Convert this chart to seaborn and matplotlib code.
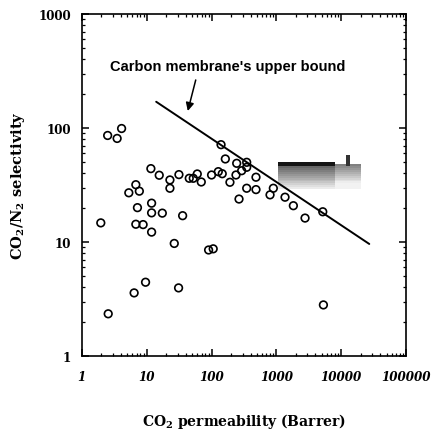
import matplotlib
matplotlib.use("Agg")
import matplotlib.pyplot as plt
import matplotlib.ticker as mticker
import numpy as np
import pandas as pd
import seaborn as sns

# CO2 permeability (Barrer) of the polymer membranes
permeability = [1.96, 2.5, 3.5, 4.1, 2.55, 5.3, 6.8, 7.7, 7.2, 6.8, 8.8, 6.4, 9.6,
                11.6, 15.6, 22.8, 22.8, 31.4, 11.9, 11.9, 17.4, 35.8, 11.9, 26.6, 31,
                45.3, 52.2, 60.2, 69.4, 100, 127, 146, 140, 163, 192, 244, 348, 291,
                348, 238, 484, 348, 484, 265, 797, 896, 1357, 1824, 2762, 5180, 90,
                106, 5300]
# CO2/N2 selectivity of the same membranes
selectivity = [14.7, 86, 81, 99, 2.34, 27, 31.8, 27.9, 20, 14.3, 14.2, 3.57, 4.43,
               44, 38.5, 35, 29.6, 39, 21.9, 18, 17.9, 17, 12.2, 9.7, 3.95,
               36.2, 36.2, 39.5, 33.6, 38.7, 41.4, 39.7, 71.4, 53.5, 33.4, 49, 50, 42.2,
               45.2, 38.7, 37, 29.6, 28.8, 23.8, 25.9, 29.6, 24.7, 20.8, 16.2, 18.4, 8.5,
               8.7, 2.8]

# Carbon membrane upper bound (end points)
bound_perm = [14, 27000]
bound_sel = [170, 9.6]

# Carbon molecular sieve membrane region
cms_perm = [1060, 8000, 20000]
cms_sel_top = 50
cms_sel_bottom = 29

x_ticks = [1, 10, 100, 1000, 10000, 100000]
y_ticks = [1, 10, 100, 1000]

sns.set_style("ticks")
plt.rcParams["font.family"] = ["DejaVu Serif"]
plt.rcParams["mathtext.default"] = "regular"
plt.rcParams["text.color"] = "black"
plt.rcParams["axes.labelcolor"] = "black"
plt.rcParams["xtick.color"] = "black"
plt.rcParams["ytick.color"] = "black"

fig = plt.figure(figsize=(4.33, 4.31), dpi=100)
ax = fig.add_axes([0.189, 0.172, 0.749, 0.793])

# shaded carbon membrane region: dark top edge fading downward
n_bands = 12
edges = np.geomspace(cms_sel_bottom, 46.5, n_bands + 1)
for i in range(n_bands):
    frac = i / (n_bands - 1)
    shade = 0.92 - 0.52 * frac
    ax.fill_between([cms_perm[0], cms_perm[1]], edges[i], edges[i + 1],
                    color=str(shade), lw=0, zorder=1)
    ax.fill_between([cms_perm[1], cms_perm[2]], edges[i], edges[i + 1],
                    color=str(min(0.95, shade + 0.15)), lw=0, zorder=1)
ax.fill_between([cms_perm[0], cms_perm[1]], 46.5, cms_sel_top,
                color="0.08", lw=0, zorder=1.2)
ax.fill_between([cms_perm[1], cms_perm[2]], 46.5, 48.5,
                color="0.5", lw=0, zorder=1.2)
ax.fill_between([12000, 13500], 46, 58, color="0.2", lw=0, zorder=1.2)

bound = pd.DataFrame({"perm": bound_perm, "sel": bound_sel})
sns.lineplot(data=bound, x="perm", y="sel", ax=ax, color="black", lw=1.4, zorder=3)

pts = pd.DataFrame({"perm": permeability, "sel": selectivity})
sns.scatterplot(data=pts, x="perm", y="sel", ax=ax, marker="o", s=30,
                facecolor="none", edgecolor="black", linewidth=1.2, zorder=4)

ax.set_xscale("log")
ax.set_yscale("log")
ax.set_xlim(1, 100000)
ax.set_ylim(1, 1000)
ax.xaxis.set_major_locator(mticker.FixedLocator(x_ticks))
ax.yaxis.set_major_locator(mticker.FixedLocator(y_ticks))
ax.xaxis.set_major_formatter(mticker.FixedFormatter([str(v) for v in x_ticks]))
ax.yaxis.set_major_formatter(mticker.FixedFormatter([str(v) for v in y_ticks]))
ax.xaxis.set_minor_locator(mticker.LogLocator(base=10, subs=np.arange(2, 10), numticks=20))
ax.yaxis.set_minor_locator(mticker.LogLocator(base=10, subs=np.arange(2, 10), numticks=20))
ax.xaxis.set_minor_formatter(mticker.NullFormatter())
ax.yaxis.set_minor_formatter(mticker.NullFormatter())
ax.tick_params(which="both", direction="in", top=True, right=True, color="black")
ax.tick_params(which="major", length=5, width=1.1)
ax.tick_params(which="minor", length=2.5, width=0.9)
ax.tick_params(axis="x", which="major", pad=10)
ax.tick_params(axis="y", which="major", pad=8)
for lab in ax.get_xticklabels():
    lab.set_fontweight("bold")
    lab.set_fontstyle("italic")
    lab.set_fontsize(8.6)
for lab in ax.get_yticklabels():
    lab.set_fontweight("bold")
    lab.set_fontsize(8.6)
for sp in ax.spines.values():
    sp.set_linewidth(1.2)
    sp.set_color("black")

ax.set_xlabel("CO$_2$ permeability (Barrer)", fontsize=10, fontweight="bold", labelpad=20)
ax.set_ylabel("CO$_2$/N$_2$ selectivity", fontsize=10.5, fontweight="bold", labelpad=8)

ax.text(179, 350, "Carbon membrane's upper bound", ha="center", va="center",
        fontsize=10.5, fontweight="bold", family="Liberation Sans")
ax.annotate("", xy=(43, 141), xytext=(57, 264),
            arrowprops=dict(arrowstyle="-|>", color="black", lw=1.1,
                            mutation_scale=12, shrinkA=0, shrinkB=0))

fig.savefig("out.png", dpi=100)
